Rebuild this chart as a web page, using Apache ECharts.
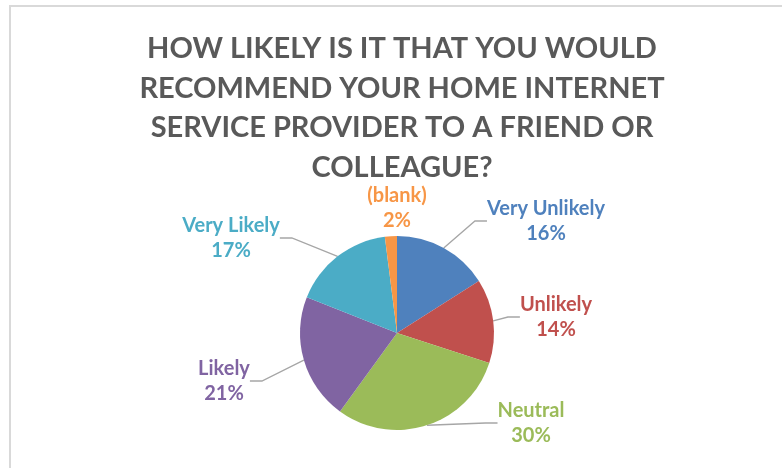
<!DOCTYPE html>
<html>
<head>
<meta charset="utf-8">
<script src="https://cdn.jsdelivr.net/npm/echarts@6/dist/echarts.min.js"></script>
<style>
  html, body { margin: 0; padding: 0; background: #fff; }
  #chart { width: 782px; height: 468px; }
</style>
</head>
<body>
<div id="chart"></div>
<script>
// Survey answers, in clockwise order from 12 o'clock
const categories = ['Very Unlikely', 'Unlikely', 'Neutral', 'Likely', 'Very Likely', '(blank)'];
const shares = [16, 14, 30, 21, 17, 2];
const sliceColors = ['#4F81BD', '#C0504D', '#9BBB59', '#8064A2', '#4BACC6', '#F79646'];
const titleText = 'HOW LIKELY IS IT THAT YOU WOULD\nRECOMMEND YOUR HOME INTERNET\nSERVICE PROVIDER TO A FRIEND OR\nCOLLEAGUE?';

// Where each data label block sits (centre of the two-line label), same order as categories
const labelSpots = [[546, 221], [556, 317], [531, 423], [224, 381], [231, 238], [397, 208]];

const FONT = 'Lato, "Open Sans", sans-serif';

const chart = echarts.init(document.getElementById('chart'), null, { renderer: 'canvas' });

chart.setOption({
  backgroundColor: '#fff',
  animation: false,
  title: {
    text: titleText,
    left: 397,
    top: 24,
    textAlign: 'center',
    textStyle: {
      fontFamily: FONT,
      fontWeight: 'bold',
      fontSize: 29,
      lineHeight: 39.5,
      color: '#595959'
    }
  },
  graphic: [{
    type: 'rect',
    shape: { x: 10, y: 6, width: 800, height: 500 },
    style: { fill: 'none', stroke: '#d9d9d9', lineWidth: 2 },
    silent: true
  }],
  series: [{
    type: 'pie',
    center: [397, 333],
    radius: 97,
    startAngle: 90,
    clockwise: true,
    data: categories.map((name, i) => ({
      name,
      value: shares[i],
      itemStyle: { color: sliceColors[i] },
      label: { color: sliceColors[i] },
      labelLine: { show: name !== '(blank)' }
    })),
    label: {
      show: true,
      position: 'outside',
      formatter: '{b}\n{c}%',
      fontFamily: FONT,
      fontWeight: 'bold',
      fontSize: 20,
      lineHeight: 25,
      align: 'center'
    },
    labelLine: {
      show: true,
      length: 18,
      length2: 12,
      lineStyle: { color: '#a6a6a6', width: 1.3 }
    },
    labelLayout: function (params) {
      const spot = labelSpots[params.dataIndex];
      return { x: spot[0], y: spot[1], align: 'center', verticalAlign: 'middle' };
    }
  }]
});
</script>
</body>
</html>
